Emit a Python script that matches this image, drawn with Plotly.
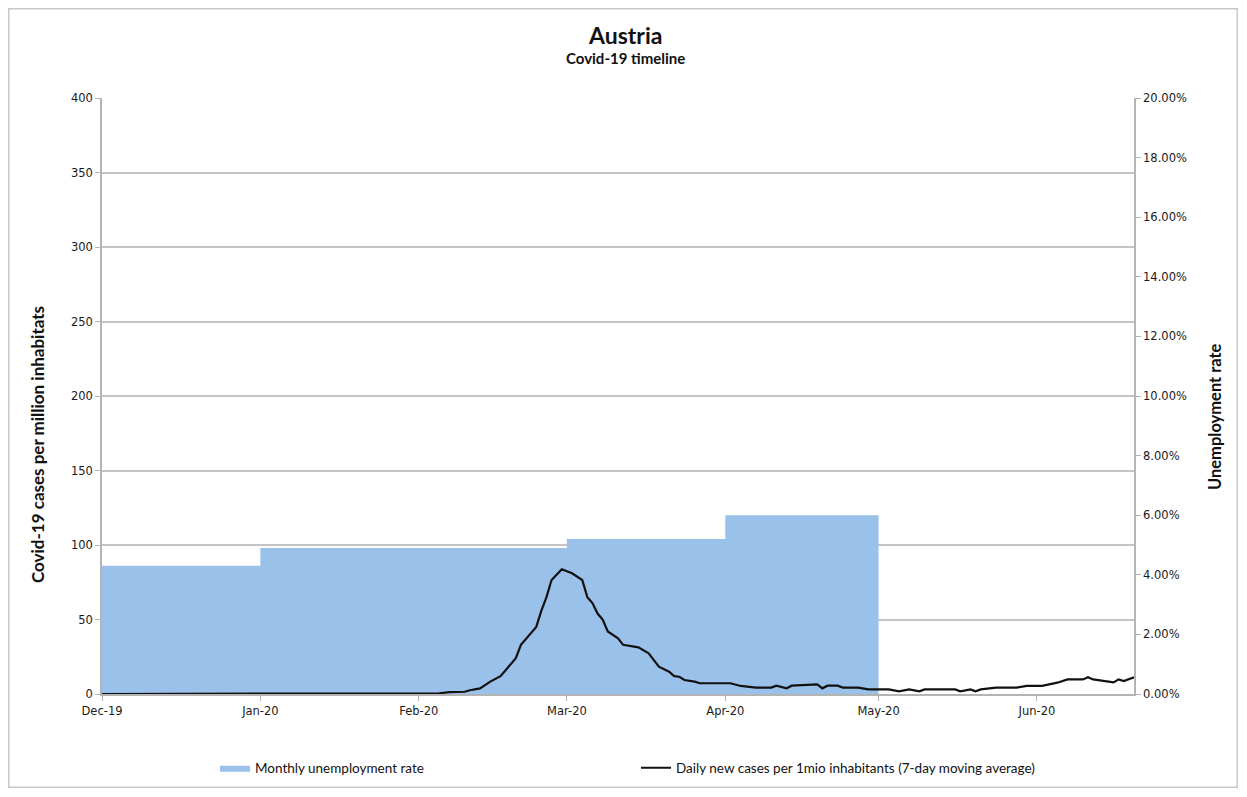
import plotly.graph_objects as go

# Monthly unemployment rate (fraction), step starts
unemp_dates = ["2019-12-01", "2020-01-01", "2020-02-01", "2020-03-01", "2020-04-01", "2020-05-01"]
unemp_values = [0.043, 0.049, 0.049, 0.052, 0.060, 0.060]

# Daily new cases per 1 mio inhabitants (7-day moving average)
case_dates = [
    "2019-12-01", "2020-01-31", "2020-02-05", "2020-02-07", "2020-02-10", "2020-02-11",
    "2020-02-13", "2020-02-15", "2020-02-17", "2020-02-18", "2020-02-20", "2020-02-21",
    "2020-02-23", "2020-02-24", "2020-02-25", "2020-02-26", "2020-02-27", "2020-02-29",
    "2020-03-02", "2020-03-04", "2020-03-05", "2020-03-06", "2020-03-07", "2020-03-08",
    "2020-03-09", "2020-03-11", "2020-03-12", "2020-03-15", "2020-03-17", "2020-03-18",
    "2020-03-19", "2020-03-21", "2020-03-22", "2020-03-23", "2020-03-24", "2020-03-26",
    "2020-03-27", "2020-04-02", "2020-04-04", "2020-04-07", "2020-04-10", "2020-04-11",
    "2020-04-13", "2020-04-14", "2020-04-19", "2020-04-20", "2020-04-21", "2020-04-23",
    "2020-04-24", "2020-04-27", "2020-04-29", "2020-05-03", "2020-05-05", "2020-05-07",
    "2020-05-09", "2020-05-10", "2020-05-16", "2020-05-17", "2020-05-19", "2020-05-20",
    "2020-05-21", "2020-05-24", "2020-05-28", "2020-05-30", "2020-06-02", "2020-06-05",
    "2020-06-07", "2020-06-10", "2020-06-11", "2020-06-12", "2020-06-16", "2020-06-17",
    "2020-06-18", "2020-06-20",
]
case_values = [
    0, 0, 0.5, 1.3, 1.5, 2.5,
    3.8, 8.3, 12, 16, 24, 33,
    40.7, 45, 56, 65, 76.5, 83.7,
    81, 76.5, 65, 61, 54, 50,
    42, 37.4, 33, 31.3, 27.3, 22.8,
    18.3, 15, 12, 11.6, 9.4, 8.3,
    7.2, 7.2, 5.4, 4.3, 4.3, 5.6,
    3.8, 5.6, 6.5, 3.8, 5.6, 5.6,
    4.3, 4.3, 3.1, 3.1, 1.8, 3.1,
    1.8, 3.1, 3.1, 1.8, 3.1, 1.8,
    3.1, 4.3, 4.3, 5.4, 5.4, 7.6,
    9.8, 9.8, 11.2, 9.8, 7.8, 9.8,
    8.7, 11.2,
]

title_text = "Austria"
subtitle_text = "Covid-19 timeline"
left_title = "Covid-19 cases per million inhabitats"
right_title = "Unemployment rate"
area_name = "Monthly unemployment rate"
line_name = "Daily new cases per 1mio inhabitants (7-day moving average)"

# page body has an 8px margin
OFF = 8
W, H = 1230, 780
L, R, T, B = 94, 104, 90, 94
pw, ph = W - L - R, H - T - B

def px_x(sx):
    return (sx - OFF - L) / pw

def px_y(sy):
    return (H - B - (sy - OFF)) / ph

grid = "#c4c4c4"
axcol = "#b4b4b4"
tickfont = dict(family="DejaVu Sans, Verdana, sans-serif", size=11.5, color="#1a1a1a")
boldfont = "Lato, Open Sans, sans-serif"
dark = "#111111"

fig = go.Figure()
fig.add_trace(go.Scatter(
    x=unemp_dates, y=unemp_values, name=area_name, mode="lines",
    line=dict(shape="hv", width=0, color="#99c1ea"),
    fill="tozeroy", fillcolor="#99c1ea", yaxis="y", legend="legend",
    hoverinfo="skip",
))
fig.add_trace(go.Scatter(
    x=case_dates, y=case_values, name=line_name, mode="lines",
    line=dict(color=dark, width=2.2), yaxis="y2", legend="legend2",
))

fig.update_layout(
    width=W, height=H,
    margin=dict(l=L, r=R, t=T, b=B, autoexpand=False),
    paper_bgcolor="white", plot_bgcolor="white",
    showlegend=True,
    xaxis=dict(
        type="date", range=["2019-12-01", "2020-06-20"],
        tick0="2019-12-01", dtick="M1", tickformat="%b-%y",
        showgrid=False, showline=True, linecolor=axcol, linewidth=1.5,
        ticks="outside", ticklen=5, tickcolor=axcol,
        tickfont=tickfont, zeroline=False,
    ),
    yaxis=dict(
        side="right", range=[0, 0.2], dtick=0.02, tickformat=".2%",
        showgrid=False, showline=True, linecolor=axcol, linewidth=1.5,
        ticks="outside", ticklen=5, tickcolor=axcol, tickfont=tickfont,
        zeroline=False,
    ),
    yaxis2=dict(
        overlaying="y", side="left", range=[0, 400], dtick=50,
        showgrid=True, gridcolor=grid, gridwidth=2,
        showline=True, linecolor=axcol, linewidth=1.5,
        ticks="outside", ticklen=5, tickcolor=axcol, tickfont=tickfont,
        zeroline=False,
    ),
    legend=dict(
        orientation="h", x=px_x(215), xanchor="left", y=px_y(768), yanchor="middle",
        font=dict(family=boldfont, size=13.5, color=dark), bgcolor="rgba(0,0,0,0)",
        itemwidth=30,
    ),
    legend2=dict(
        orientation="h", x=px_x(636), xanchor="left", y=px_y(768), yanchor="middle",
        font=dict(family=boldfont, size=13.5, color=dark), bgcolor="rgba(0,0,0,0)",
        itemwidth=30,
    ),
    annotations=[
        dict(text="<b>" + title_text + "</b>", x=px_x(625), xref="paper", y=px_y(35), yref="paper",
             showarrow=False, font=dict(family=boldfont, size=23, color=dark), xanchor="center", yanchor="middle"),
        dict(text="<b>" + subtitle_text + "</b>", x=px_x(625), xref="paper", y=px_y(58), yref="paper",
             showarrow=False, font=dict(family=boldfont, size=15, color=dark), xanchor="center", yanchor="middle"),
        dict(text="<b>" + left_title + "</b>", x=px_x(37), xref="paper", y=px_y(445), yref="paper",
             textangle=-90, showarrow=False, font=dict(family=boldfont, size=17, color=dark),
             xanchor="center", yanchor="middle"),
        dict(text="<b>" + right_title + "</b>", x=px_x(1215), xref="paper", y=px_y(417), yref="paper",
             textangle=-90, showarrow=False, font=dict(family=boldfont, size=16.5, color=dark),
             xanchor="center", yanchor="middle"),
    ],
    shapes=[
        dict(type="rect", xref="paper", yref="paper", x0=px_x(OFF + 0.75), x1=px_x(OFF + W - 0.75),
             y0=px_y(OFF + H - 0.75), y1=px_y(OFF + 0.75),
             line=dict(color="#c8c8c8", width=1.5), layer="below"),
    ],
)

fig.write_html("out.html")
